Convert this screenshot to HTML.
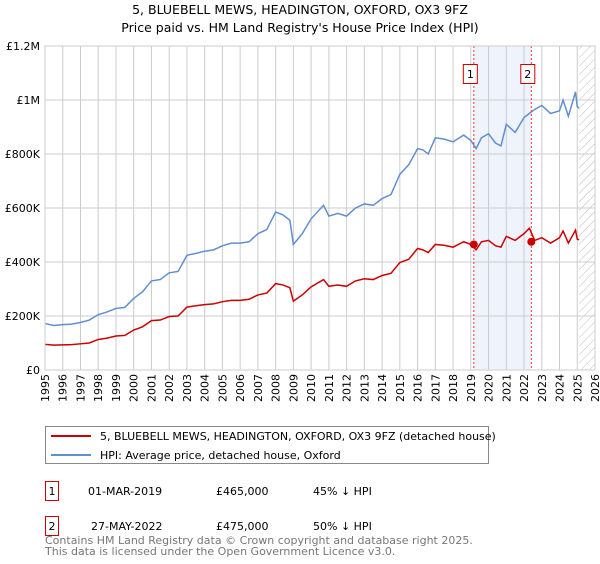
<!DOCTYPE html>
<html><head><meta charset="utf-8"><style>
body{margin:0;background:#fff;font-family:"DejaVu Sans","Liberation Sans",sans-serif;}
svg text{font-family:"DejaVu Sans","Liberation Sans",sans-serif;}
</style></head><body>
<svg id="c" width="600" height="560" viewBox="0 0 600 560">
<text x="300" y="14" text-anchor="middle" font-size="12.5" fill="#000">5, BLUEBELL MEWS, HEADINGTON, OXFORD, OX3 9FZ</text>
<text x="300" y="32" text-anchor="middle" font-size="12.5" fill="#000">Price paid vs. HM Land Registry's House Price Index (HPI)</text>
<g id="plot"></g>
<g>
<rect x="45.5" y="426.5" width="443" height="37" fill="#fff" stroke="#888"/>
<line x1="51" y1="436" x2="91" y2="436" stroke="#cc0000" stroke-width="2"/>
<text x="100" y="440" font-size="11">5, BLUEBELL MEWS, HEADINGTON, OXFORD, OX3 9FZ (detached house)</text>
<line x1="51" y1="455" x2="91" y2="455" stroke="#5f8fd0" stroke-width="2"/>
<text x="100" y="459" font-size="11">HPI: Average price, detached house, Oxford</text>
</g>
<g font-size="11">
<rect x="45.5" y="481.5" width="13" height="19" fill="#fff" stroke="#cc0000"/>
<text x="52" y="495" text-anchor="middle">1</text>
<text x="88" y="495">01-MAR-2019</text><text x="216" y="495">£465,000</text><text x="313" y="495">45% ↓ HPI</text>
<rect x="45.5" y="516.5" width="13" height="19" fill="#fff" stroke="#cc0000"/>
<text x="52" y="530" text-anchor="middle">2</text>
<text x="91" y="530">27-MAY-2022</text><text x="216" y="530">£475,000</text><text x="313" y="530">50% ↓ HPI</text>
</g>
<text x="45" y="544" font-size="11" fill="#777">Contains HM Land Registry data © Crown copyright and database right 2025.</text>
<text x="45" y="555" font-size="11" fill="#777">This data is licensed under the Open Government Licence v3.0.</text>
</svg>
<script>
const yTicks=[0,200,400,600,800,1000,1200];
const yTickLabels=["£0","£200K","£400K","£600K","£800K","£1M","£1.2M"];
const xYears=[1995,1996,1997,1998,1999,2000,2001,2002,2003,2004,2005,2006,2007,2008,2009,2010,2011,2012,2013,2014,2015,2016,2017,2018,2019,2020,2021,2022,2023,2024,2025,2026];
const hpiT=[1995,1995.5,1996,1996.5,1997,1997.5,1998,1998.5,1999,1999.5,2000,2000.5,2001,2001.5,2002,2002.5,2003,2003.5,2004,2004.5,2005,2005.5,2006,2006.5,2007,2007.5,2008,2008.4,2008.8,2009,2009.5,2010,2010.7,2011,2011.5,2012,2012.5,2013,2013.5,2014,2014.5,2015,2015.5,2016,2016.3,2016.6,2017,2017.5,2018,2018.6,2019,2019.3,2019.6,2020,2020.4,2020.7,2021,2021.5,2022,2022.3,2022.6,2023,2023.5,2024,2024.2,2024.5,2024.9,2025,2025.1];
const hpiV=[172,165,168,170,176,185,205,215,228,232,265,290,330,335,360,365,425,432,440,445,460,470,470,475,505,520,585,575,555,465,505,560,610,570,580,570,600,615,610,635,650,725,760,820,815,800,860,855,845,870,850,820,860,875,840,830,910,880,935,950,965,980,950,960,1000,940,1030,975,970];
const ppT=[1995,1995.5,1996,1996.5,1997,1997.5,1998,1998.5,1999,1999.5,2000,2000.5,2001,2001.5,2002,2002.5,2003,2003.5,2004,2004.5,2005,2005.5,2006,2006.5,2007,2007.5,2008,2008.4,2008.8,2009,2009.5,2010,2010.7,2011,2011.5,2012,2012.5,2013,2013.5,2014,2014.5,2015,2015.5,2016,2016.3,2016.6,2017,2017.5,2018,2018.6,2019,2019.3,2019.6,2020,2020.4,2020.7,2021,2021.5,2022,2022.3,2022.6,2023,2023.5,2024,2024.2,2024.5,2024.9,2025,2025.1];
const ppV=[95,92,93,94,97,100,113,118,126,128,148,160,183,185,198,200,233,238,242,245,253,258,258,262,278,285,320,315,305,255,278,308,335,310,315,310,330,338,335,350,358,398,410,450,445,435,465,462,455,475,465,445,475,480,460,455,495,480,505,525,480,490,470,490,515,470,518,485,482];
const sales=[{t:2019.17,v:465,n:"1"},{t:2022.41,v:475,n:"2"}];
const X0=45,X1=595,Y0=370,Y1=46;
const x=t=>X0+(t-1995)/(2026-1995)*(X1-X0);
const y=v=>Y0-v/1200*(Y0-Y1);
const NS="http://www.w3.org/2000/svg",g=document.getElementById('plot');
function mk(tag,a,p){const e=document.createElementNS(NS,tag);for(const k in a)e.setAttribute(k,a[k]);(p||g).appendChild(e);return e;}
const defs=mk('defs',{});
const pat=mk('pattern',{id:'hatch',width:6,height:6,patternUnits:'userSpaceOnUse',patternTransform:'rotate(45)'},defs);
mk('line',{x1:0,y1:0,x2:0,y2:6,stroke:'#bbb','stroke-width':1},pat);
const sh=mk('rect',{x:x(sales[0].t),y:Y1,width:x(sales[1].t)-x(sales[0].t),height:Y0-Y1,fill:'#eef3fc'});


const ht=mk('rect',{x:x(2025.1),y:Y1,width:X1-x(2025.1),height:Y0-Y1,fill:'url(#hatch)'});


xYears.forEach(yr=>{
 const l=mk('line',{x1:x(yr),x2:x(yr),y1:Y1,y2:Y0,stroke:'#ccc','stroke-width':1});
 
 
 const tx=mk('text',{x:0,y:0,'font-size':11,'text-anchor':'end',transform:`translate(${x(yr)+4},${Y0+4}) rotate(-90)`});
 tx.textContent=yr;
 
 
});
yTicks.forEach((v,i)=>{
 const l=mk('line',{x1:X0,x2:X1,y1:y(v),y2:y(v),stroke:'#ccc','stroke-width':1});
 
 
 const tx=mk('text',{x:X0-5,y:y(v)+4,'font-size':11,'text-anchor':'end'});
 tx.textContent=yTickLabels[i];
 
 
});
function line(T,V,col,name){const p=mk('polyline',{points:T.map((t,i)=>x(t)+','+y(V[i])).join(' '),fill:'none',stroke:col,'stroke-width':1.5});
 
 }
line(hpiT,hpiV,'#5f8fd0','hpi-line');
line(ppT,ppV,'#cc0000','price-paid-line');
sales.forEach(s=>{
 const l=mk('line',{x1:x(s.t),x2:x(s.t),y1:Y1,y2:Y0,stroke:'#e33','stroke-width':1,'stroke-dasharray':'2,2'});
 
 
 const c=mk('circle',{cx:x(s.t),cy:y(s.v),r:4,fill:'#cc0000'});
 
 
 const b=mk('rect',{x:x(s.t)-10.5,y:64.5,width:14,height:19,fill:'#fff',stroke:'#cc0000'});
 
 
 const t=mk('text',{x:x(s.t)-3.5,y:78,'font-size':11,'text-anchor':'middle'});t.textContent=s.n;
 
 
});
mk('rect',{x:X0,y:Y1,width:X1-X0,height:Y0-Y1,fill:'none',stroke:'#ccc'});
</script>
</body></html>
